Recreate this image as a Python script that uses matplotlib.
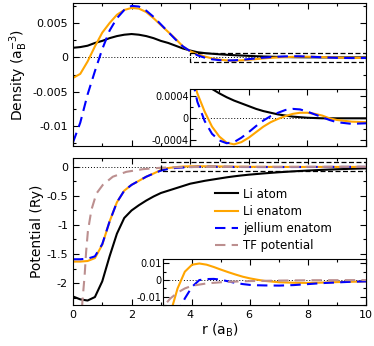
import numpy as np
import matplotlib
matplotlib.use("Agg")
import matplotlib.pyplot as plt
from matplotlib.ticker import MultipleLocator

# density data
r_den = [0, 0.25, 0.5, 0.75, 1.0, 1.25, 1.5, 1.75, 2.0, 2.25, 2.5, 2.75, 3.0, 3.25,
         3.5, 3.75, 4.0, 4.25, 4.5, 4.75, 5.0, 5.25, 5.5, 5.75, 6.0, 6.25, 6.5, 6.75,
         7.0, 7.25, 7.5, 7.75, 8.0, 8.25, 8.5, 8.75, 9.0, 9.5, 10.0]
den_li_atom = [0.0014, 0.0015, 0.0017, 0.0021, 0.0024, 0.0028, 0.0031, 0.0033, 0.0034,
               0.0033, 0.0031, 0.0028, 0.0024, 0.0021, 0.0017, 0.0013, 0.001, 0.00075,
               0.00062, 0.00053, 0.00045, 0.00038, 0.00032, 0.00027, 0.00022, 0.00017,
               0.00013, 0.0001, 0.00007, 0.00005, 0.00003, 0.00002, 0.00001, 0.000005,
               0.0, 0.0, 0.0, 0.0, 0.0]
den_li_enatom = [-0.0030, -0.0024, -0.0006, 0.0016, 0.0036, 0.0050, 0.0062, 0.0069, 0.0072,
                 0.0071, 0.0066, 0.0057, 0.0047, 0.0037, 0.0027, 0.0016, 0.0009, 0.00045,
                 0.00012, -0.00015, -0.00033, -0.00044, -0.00047, -0.00043, -0.00035,
                 -0.00025, -0.00015, -0.00007, -0.00001, 0.00004, 0.00008, 0.0001, 0.0001,
                 0.00008, 0.00005, 0.0, -0.00003, -0.00006, -0.00007]
den_jellium = [-0.0124, -0.0095, -0.0054, -0.0020, 0.0012, 0.0039, 0.0057, 0.0069, 0.0075,
               0.0074, 0.0068, 0.0059, 0.0048, 0.0037, 0.0026, 0.0016, 0.0009, 0.0003,
               -0.00005, -0.00028, -0.0004, -0.00045, -0.00043, -0.00035, -0.00025, -0.00014,
               -0.00004, 0.00004, 0.0001, 0.00015, 0.00017, 0.00016, 0.00012, 0.00007,
               0.00002, -0.00003, -0.00007, -0.0001, -0.00009]

# potential data
r_pot = [0, 0.25, 0.5, 0.75, 1.0, 1.25, 1.5, 1.75, 2.0, 2.25, 2.5, 2.75, 3.0, 3.25, 3.5,
         3.75, 4.0, 4.25, 4.5, 4.75, 5.0, 5.25, 5.5, 5.75, 6.0, 6.25, 6.5, 7.0, 7.5, 8.0,
         8.5, 9.0, 9.5, 10.0]
pot_li_atom = [-2.23, -2.28, -2.30, -2.24, -1.97, -1.54, -1.15, -0.88, -0.75, -0.66, -0.58,
               -0.51, -0.45, -0.41, -0.37, -0.33, -0.29, -0.265, -0.24, -0.22, -0.20, -0.18,
               -0.163, -0.148, -0.135, -0.124, -0.113, -0.094, -0.078, -0.064, -0.052,
               -0.042, -0.033, -0.026]
pot_li_enatom = [-1.63, -1.63, -1.62, -1.57, -1.34, -0.94, -0.61, -0.41, -0.31, -0.24, -0.17,
                 -0.115, -0.055, -0.02, -0.005, 0.005, 0.0092, 0.0099, 0.0092, 0.0078, 0.0062,
                 0.0047, 0.0033, 0.002, 0.001, 0.0002, -0.0005, -0.0013, -0.0016, -0.0017,
                 -0.0015, -0.0012, -0.001, -0.0008]
pot_jellium = [-1.59, -1.59, -1.58, -1.54, -1.33, -0.94, -0.61, -0.41, -0.31, -0.24, -0.17,
               -0.115, -0.065, -0.035, -0.019, -0.011, -0.004, 0.0, 0.0006, 0.0007, 0.0002,
               -0.0008, -0.0017, -0.0024, -0.0029, -0.0031, -0.0032, -0.0033, -0.003,
               -0.0024, -0.0018, -0.0014, -0.001, -0.0008]
r_tf = [0.25, 0.32, 0.4, 0.45, 0.51, 0.63, 0.8, 1.02, 1.36, 1.82, 2.39, 3.0, 3.25, 3.5,
        3.75, 4.0, 4.5, 5.0, 5.5, 6.0, 7.0, 8.0, 9.0, 10.0]
pot_tf = [-3.0, -2.34, -1.86, -1.46, -1.11, -0.74, -0.46, -0.31, -0.17, -0.086, -0.04,
          -0.016, -0.011, -0.0075, -0.005, -0.0034, -0.002, -0.0013, -0.0009, -0.0006,
          -0.0003, -0.0001, -0.00005, 0.0]

labels = ["Li atom", "Li enatom", "jellium enatom", "TF potential"]
c_orange = "#ffa500"
c_blue = "#0000ff"
c_tf = "#bc8f8f"


def style_ticks(ax, size=8):
    ax.tick_params(which="both", direction="in", top=True, right=True, labelsize=size)
    ax.tick_params(which="major", length=4, width=0.8)
    ax.tick_params(which="minor", length=2.5, width=0.8)


def draw_density(ax):
    ax.axhline(0, color="black", lw=0.7, ls=(0, (1, 2)))
    ax.plot(r_den, den_li_atom, color="black", lw=1.5)
    ax.plot(r_den, den_li_enatom, color=c_orange, lw=1.5)
    ax.plot(r_den, den_jellium, color=c_blue, lw=1.5, dashes=(5, 3))


def draw_potential(ax):
    ax.axhline(0, color="black", lw=0.7, ls=(0, (1, 2)))
    ax.plot(r_pot, pot_li_atom, color="black", lw=1.5, label=labels[0])
    ax.plot(r_pot, pot_li_enatom, color=c_orange, lw=1.5, label=labels[1])
    ax.plot(r_pot, pot_jellium, color=c_blue, lw=1.5, dashes=(5, 3), label=labels[2])
    ax.plot(r_tf, pot_tf, color=c_tf, lw=1.5, dashes=(5, 3), label=labels[3])


fig = plt.figure(figsize=(3.74, 3.46), dpi=100)

# top panel: density
ax1 = fig.add_axes([0.195, 0.578, 0.784, 0.413])
draw_density(ax1)
ax1.plot([4, 10, 10, 4, 4], [0.0007, 0.0007, -0.0007, -0.0007, 0.0007],
         color="black", lw=0.9, dashes=(4, 2))
ax1.set_xlim(0, 10)
ax1.set_ylim(-0.0129, 0.0079)
ax1.xaxis.set_major_locator(MultipleLocator(2))
ax1.xaxis.set_minor_locator(MultipleLocator(1))
ax1.set_yticks([-0.01, -0.005, 0, 0.005])
ax1.set_yticklabels(["-0.01", "-0.005", "0", "0.005"])
ax1.yaxis.set_minor_locator(MultipleLocator(0.0025))
ax1.set_xticklabels([])
ax1.set_ylabel(r"Density (a$_\mathrm{B}^{-3}$)", fontsize=10, labelpad=2)
style_ticks(ax1)

# top inset
ins1 = fig.add_axes([0.508, 0.578, 0.471, 0.165])
draw_density(ins1)
ins1.set_xlim(4, 10)
ins1.set_ylim(-0.0005, 0.00053)
ins1.xaxis.set_major_locator(MultipleLocator(2))
ins1.xaxis.set_minor_locator(MultipleLocator(1))
ins1.set_yticks([-0.0004, 0, 0.0004])
ins1.set_yticklabels(["-0.0004", "0", "0.0004"])
ins1.yaxis.set_minor_locator(MultipleLocator(0.0002))
ins1.set_xticklabels([])
style_ticks(ins1, size=7)
ins1.tick_params(axis="y", pad=1)

# bottom panel: potential
ax2 = fig.add_axes([0.195, 0.118, 0.784, 0.425])
draw_potential(ax2)
ax2.plot([3, 10, 10, 3, 3], [0.075, 0.075, -0.075, -0.075, 0.075],
         color="black", lw=0.9, dashes=(4, 2))
ax2.set_xlim(0, 10)
ax2.set_ylim(-2.38, 0.15)
ax2.xaxis.set_major_locator(MultipleLocator(2))
ax2.xaxis.set_minor_locator(MultipleLocator(1))
ax2.set_yticks([-2, -1.5, -1, -0.5, 0])
ax2.set_yticklabels(["-2", "-1.5", "-1", "-0.5", "0"])
ax2.yaxis.set_minor_locator(MultipleLocator(0.25))
ax2.set_xlabel(r"r (a$_\mathrm{B}$)", fontsize=10, labelpad=1)
ax2.set_ylabel("Potential (Ry)", fontsize=10, labelpad=2)
style_ticks(ax2)
ax2.legend(loc="upper left", bbox_to_anchor=(0.485, 0.80), frameon=False, fontsize=8.5,
           handlelength=1.9, handletextpad=0.5, labelspacing=0.35, borderpad=0.0,
           borderaxespad=0.0)

# bottom inset
ins2 = fig.add_axes([0.436, 0.118, 0.543, 0.133])
draw_potential(ins2)
ins2.set_xlim(3, 10)
ins2.set_ylim(-0.015, 0.0125)
ins2.xaxis.set_major_locator(MultipleLocator(2))
ins2.xaxis.set_minor_locator(MultipleLocator(1))
ins2.set_yticks([-0.01, 0, 0.01])
ins2.set_yticklabels(["-0.01", "0", "0.01"])
ins2.yaxis.set_minor_locator(MultipleLocator(0.005))
ins2.set_xticklabels([])
style_ticks(ins2, size=7)
ins2.tick_params(axis="y", pad=1)

fig.savefig("out.png", dpi=100)
